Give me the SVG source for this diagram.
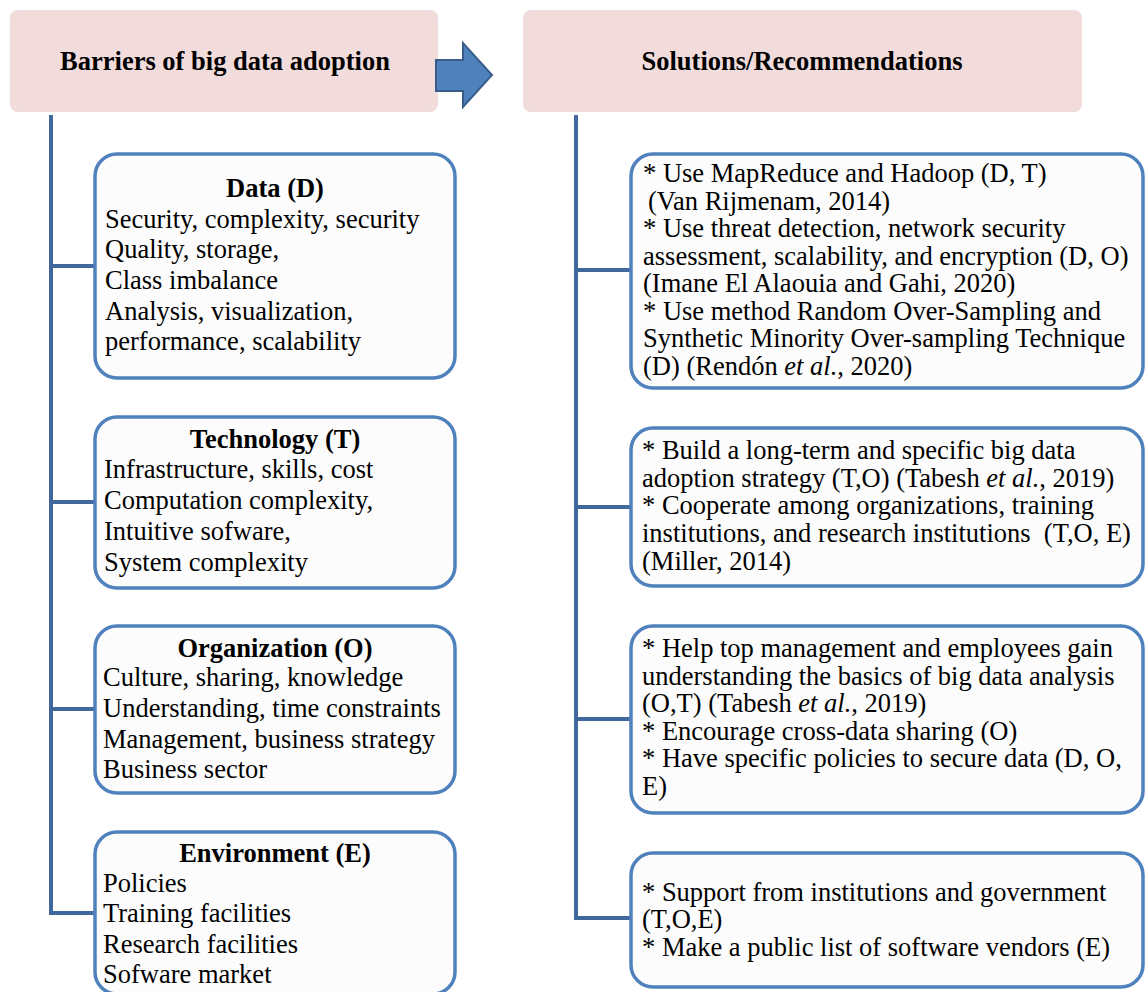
<svg xmlns="http://www.w3.org/2000/svg" width="1145" height="992" viewBox="0 0 1145 992">
<style>
.hdr{fill:#f2dcdb;stroke:none}
.box{fill:#fcfcfc;stroke:#4f81bd;stroke-width:3.5}
.con{fill:none;stroke:#41689c;stroke-width:4}
.t{font-family:"Liberation Serif","Times New Roman",serif;font-size:26.5px;fill:#000}
.b{font-weight:bold}
.h{font-family:"Liberation Serif","Times New Roman",serif;font-size:26.5px;font-weight:bold;fill:#000;text-anchor:middle}
</style>
<rect width="1145" height="992" fill="#fff"/>
<g id="connectors">
<path class="con" d="M51 115 V913 H95 M51 266 H95 M51 502 H95 M51 709 H95"/>
<path class="con" d="M576 115 V918 H631 M576 270 H631 M576 507 H631 M576 719 H631"/>
</g>
<g id="header-barriers">
<rect class="hdr" x="10" y="10" width="428" height="102" rx="8"/>
<text class="h" x="225" y="70">Barriers of big data adoption</text>
</g>
<g id="arrow">
<path d="M436 60 H463 V43 L492 75 L463 107 V91 H436 Z" fill="#4f81bd" stroke="#385d8a" stroke-width="2"/>
</g>
<g id="header-solutions">
<rect class="hdr" x="523" y="10" width="559" height="102" rx="8"/>
<text class="h" x="802" y="70">Solutions/Recommendations</text>
</g>
<g id="data">
<rect class="box" x="95" y="154" width="360" height="224" rx="22"/>
<text class="t b" x="275" y="197" text-anchor="middle">Data (D)</text>
<text class="t" x="105" y="228">Security, complexity, security</text>
<text class="t" x="105" y="258">Quality, storage,</text>
<text class="t" x="105" y="289">Class imbalance</text>
<text class="t" x="105" y="320">Analysis, visualization,</text>
<text class="t" x="105" y="350">performance, scalability</text>
</g>
<g id="technology">
<rect class="box" x="95" y="417" width="360" height="171" rx="22"/>
<text class="t b" x="275" y="448" text-anchor="middle">Technology (T)</text>
<text class="t" x="104" y="478">Infrastructure, skills, cost</text>
<text class="t" x="104" y="509">Computation complexity,</text>
<text class="t" x="104" y="540">Intuitive sofware,</text>
<text class="t" x="104" y="571">System complexity</text>
</g>
<g id="organization">
<rect class="box" x="95" y="626" width="360" height="167" rx="22"/>
<text class="t b" x="275" y="657" text-anchor="middle">Organization (O)</text>
<text class="t" x="103" y="686">Culture, sharing, knowledge</text>
<text class="t" x="103" y="717">Understanding, time constraints</text>
<text class="t" x="103" y="748">Management, business strategy</text>
<text class="t" x="103" y="778">Business sector</text>
</g>
<g id="environment">
<rect class="box" x="95" y="832" width="360" height="162" rx="22"/>
<text class="t b" x="275" y="862" text-anchor="middle">Environment (E)</text>
<text class="t" x="103" y="892">Policies</text>
<text class="t" x="103" y="922">Training facilities</text>
<text class="t" x="103" y="953">Research facilities</text>
<text class="t" x="103" y="983">Sofware market</text>
</g>
<g id="solution-1">
<rect class="box" x="631" y="154" width="512" height="234" rx="22"/>
<text class="t" x="643" y="182">* Use MapReduce and Hadoop (D, T)</text>
<text class="t" x="648" y="210">(Van Rijmenam, 2014)</text>
<text class="t" x="643" y="237">* Use threat detection, network security</text>
<text class="t" x="643" y="265">assessment, scalability, and encryption (D, O)</text>
<text class="t" x="643" y="292">(Imane El Alaouia and Gahi, 2020)</text>
<text class="t" x="643" y="320">* Use method Random Over-Sampling and</text>
<text class="t" x="643" y="347">Synthetic Minority Over-sampling Technique</text>
<text class="t" x="643" y="375">(D) (Rendón <tspan font-style="italic">et al.</tspan>, 2020)</text>
</g>
<g id="solution-2">
<rect class="box" x="631" y="428" width="512" height="158" rx="22"/>
<text class="t" x="642" y="459">* Build a long-term and specific big data</text>
<text class="t" x="642" y="487">adoption strategy (T,O) (Tabesh <tspan font-style="italic">et al.</tspan>, 2019)</text>
<text class="t" x="642" y="514">* Cooperate among organizations, training</text>
<text class="t" x="642" y="542" xml:space="preserve">institutions, and research institutions  (T,O, E)</text>
<text class="t" x="642" y="570">(Miller, 2014)</text>
</g>
<g id="solution-3">
<rect class="box" x="631" y="626" width="512" height="187" rx="22"/>
<text class="t" x="642" y="657">* Help top management and employees gain</text>
<text class="t" x="642" y="685">understanding the basics of big data analysis</text>
<text class="t" x="642" y="712">(O,T) (Tabesh <tspan font-style="italic">et al.</tspan>, 2019)</text>
<text class="t" x="642" y="740">* Encourage cross-data sharing (O)</text>
<text class="t" x="642" y="767">* Have specific policies to secure data (D, O,</text>
<text class="t" x="642" y="795">E)</text>
</g>
<g id="solution-4">
<rect class="box" x="631" y="853" width="512" height="134" rx="22"/>
<text class="t" x="642" y="901">* Support from institutions and government</text>
<text class="t" x="642" y="928">(T,O,E)</text>
<text class="t" x="642" y="956">* Make a public list of software vendors (E)</text>
</g>
</svg>
